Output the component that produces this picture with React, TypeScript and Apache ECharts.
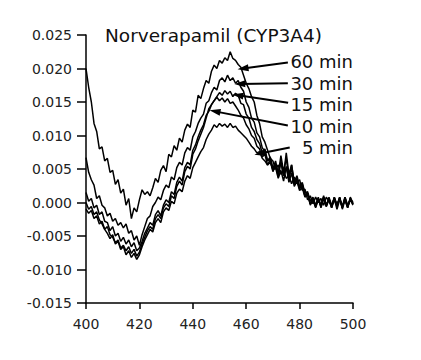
import React, { useEffect, useRef } from "react";
import * as echarts from "echarts";

const chartTitle = "Norverapamil (CYP3A4)";
const wavelengthStart = 400;
const wavelengthCount = 101;
const xTicks = [400, 420, 440, 460, 480, 500];
const yMin = -0.015;
const yMax = 0.025;
const yStep = 0.005;

const min60 = [
  0.0200, 0.0172, 0.0150, 0.0118, 0.0106, 0.0080, 0.0083, 0.0062, 0.0066, 0.0045,
  0.0048, 0.0027, 0.0034, 0.0014, 0.0020, -0.0004, 0.0006, -0.0024, -0.0008, -0.0014,
  0.0004, 0.0019, 0.0012, 0.0016, 0.0010, 0.0022, 0.0036, 0.0030, 0.0048, 0.0055,
  0.0046, 0.0072, 0.0068, 0.0085, 0.0078, 0.0096, 0.0090, 0.0108, 0.0117, 0.0112,
  0.0138, 0.0135, 0.0160, 0.0155, 0.0170, 0.0182, 0.0178, 0.0196, 0.0205, 0.0200,
  0.0212, 0.0208, 0.0216, 0.0212, 0.0225, 0.0215, 0.0212, 0.0206, 0.0202, 0.0190,
  0.0178, 0.0170, 0.0158, 0.0150, 0.0130, 0.0118, 0.0098, 0.0090, 0.0078, 0.0066,
  0.0062, 0.0050, 0.0056, 0.0042, 0.0048, 0.0036, 0.0040, 0.0028, 0.0038, 0.0030,
  0.0034, 0.0018, 0.0020, 0.0004, 0.0010, -0.0002, 0.0008, 0.0000, 0.0006, -0.0004,
  0.0008, 0.0002, -0.0006, 0.0006, -0.0004, 0.0008, -0.0006, 0.0004, -0.0008, 0.0006,
  -0.0002,
];

const min30 = [
  0.0067, 0.0045, 0.0034, 0.0026, 0.0006, 0.0010, -0.0004, -0.0008, -0.0020, -0.0016,
  -0.0028, -0.0024, -0.0034, -0.0030, -0.0038, -0.0032, -0.0046, -0.0042, -0.0056, -0.0050,
  -0.0064, -0.0048, -0.0036, -0.0024, -0.0020, -0.0006, 0.0000, 0.0008, 0.0004, 0.0018,
  0.0026, 0.0022, 0.0038, 0.0034, 0.0052, 0.0060, 0.0056, 0.0074, 0.0082, 0.0078,
  0.0098, 0.0106, 0.0118, 0.0126, 0.0132, 0.0148, 0.0152, 0.0164, 0.0172, 0.0168,
  0.0182, 0.0186, 0.0180, 0.0190, 0.0182, 0.0186, 0.0178, 0.0182, 0.0172, 0.0166,
  0.0150, 0.0142, 0.0126, 0.0120, 0.0104, 0.0098, 0.0082, 0.0076, 0.0062, 0.0066,
  0.0050, 0.0058, 0.0044, 0.0060, 0.0040, 0.0052, 0.0036, 0.0056, 0.0030, 0.0040,
  0.0024, 0.0028, 0.0010, 0.0014, -0.0002, 0.0004, -0.0006, 0.0006, -0.0004, 0.0008,
  -0.0006, 0.0004, -0.0008, 0.0008, -0.0004, 0.0006, -0.0008, 0.0008, -0.0004, 0.0004,
  -0.0002,
];

const min15 = [
  0.0015, 0.0002, 0.0006, -0.0008, -0.0004, -0.0018, -0.0014, -0.0028, -0.0030, -0.0042,
  -0.0036, -0.0050, -0.0046, -0.0058, -0.0052, -0.0062, -0.0056, -0.0066, -0.0060, -0.0072,
  -0.0068, -0.0058, -0.0046, -0.0038, -0.0030, -0.0034, -0.0018, -0.0012, -0.0020, -0.0004,
  0.0004, 0.0000, 0.0016, 0.0012, 0.0030, 0.0038, 0.0032, 0.0052, 0.0060, 0.0056,
  0.0078, 0.0086, 0.0098, 0.0108, 0.0116, 0.0130, 0.0136, 0.0146, 0.0152, 0.0158,
  0.0164, 0.0160, 0.0167, 0.0162, 0.0166, 0.0158, 0.0163, 0.0160, 0.0148, 0.0146,
  0.0132, 0.0126, 0.0112, 0.0106, 0.0094, 0.0088, 0.0074, 0.0080, 0.0062, 0.0068,
  0.0050, 0.0062, 0.0042, 0.0070, 0.0046, 0.0066, 0.0038, 0.0050, 0.0030, 0.0036,
  0.0022, 0.0030, 0.0014, 0.0016, 0.0002, 0.0008, -0.0004, 0.0008, -0.0008, 0.0006,
  -0.0006, 0.0008, -0.0004, 0.0006, -0.0010, 0.0004, -0.0006, 0.0008, -0.0006, 0.0006,
  0.0000,
];

const min10 = [
  0.0000, -0.0010, -0.0006, -0.0018, -0.0014, -0.0026, -0.0032, -0.0040, -0.0036, -0.0048,
  -0.0052, -0.0060, -0.0056, -0.0068, -0.0064, -0.0072, -0.0066, -0.0076, -0.0070, -0.0080,
  -0.0074, -0.0062, -0.0052, -0.0042, -0.0036, -0.0040, -0.0024, -0.0018, -0.0024, -0.0008,
  -0.0002, -0.0006, 0.0010, 0.0006, 0.0024, 0.0032, 0.0026, 0.0046, 0.0054, 0.0050,
  0.0072, 0.0080, 0.0092, 0.0102, 0.0112, 0.0126, 0.0140, 0.0146, 0.0152, 0.0157,
  0.0152, 0.0156, 0.0150, 0.0155, 0.0148, 0.0150, 0.0144, 0.0138, 0.0130, 0.0126,
  0.0116, 0.0110, 0.0100, 0.0096, 0.0084, 0.0080, 0.0068, 0.0072, 0.0056, 0.0064,
  0.0046, 0.0056, 0.0038, 0.0062, 0.0040, 0.0074, 0.0042, 0.0056, 0.0028, 0.0034,
  0.0020, 0.0026, 0.0010, 0.0014, -0.0004, 0.0004, -0.0008, 0.0004, -0.0006, 0.0010,
  -0.0004, 0.0006, -0.0008, 0.0004, -0.0006, 0.0008, -0.0010, 0.0004, -0.0008, 0.0008,
  -0.0002,
];

const min5 = [
  -0.0010, -0.0016, -0.0012, -0.0024, -0.0020, -0.0032, -0.0028, -0.0040, -0.0046, -0.0054,
  -0.0048, -0.0062, -0.0058, -0.0070, -0.0066, -0.0078, -0.0072, -0.0082, -0.0076, -0.0085,
  -0.0078, -0.0066, -0.0056, -0.0048, -0.0040, -0.0044, -0.0030, -0.0024, -0.0030, -0.0014,
  -0.0008, -0.0012, 0.0002, -0.0002, 0.0014, 0.0020, 0.0016, 0.0032, 0.0040, 0.0036,
  0.0052, 0.0060, 0.0068, 0.0076, 0.0082, 0.0094, 0.0102, 0.0108, 0.0116, 0.0112,
  0.0118, 0.0114, 0.0117, 0.0112, 0.0118, 0.0112, 0.0114, 0.0108, 0.0104, 0.0100,
  0.0096, 0.0090, 0.0084, 0.0080, 0.0074, 0.0076, 0.0066, 0.0062, 0.0056, 0.0060,
  0.0048, 0.0052, 0.0036, 0.0048, 0.0032, 0.0054, 0.0030, 0.0044, 0.0024, 0.0032,
  0.0018, 0.0022, 0.0008, 0.0012, -0.0002, 0.0006, -0.0006, 0.0006, -0.0006, 0.0008,
  -0.0004, 0.0006, -0.0006, 0.0008, -0.0004, 0.0006, -0.0008, 0.0006, -0.0006, 0.0004,
  -0.0004,
];

const seriesNames = ["60 min", "30 min", "15 min", "10 min", "5 min"];
const seriesValues = [min60, min30, min15, min10, min5];

// annotation arrows in data units: start (next to label) and tip (on curve)
const arrowStarts = [
  [475.6, 0.0209],
  [475.6, 0.0178],
  [475.7, 0.0149],
  [475.6, 0.0115],
  [476.3, 0.0082],
];
const arrowTips = [
  [458.8, 0.0200],
  [457.6, 0.0177],
  [456.9, 0.0160],
  [448.3, 0.0136],
  [465.1, 0.0073],
];
const labelAnchors = [
  [500, 0.0211],
  [500, 0.0177],
  [500, 0.0146],
  [500, 0.0114],
  [500, 0.0082],
];

const FONT = "DejaVu Sans, Arial, sans-serif";

export default function App() {
  const ref = useRef<HTMLDivElement>(null);
  useEffect(() => {
    if (!ref.current) return;
    const chart = echarts.init(ref.current, undefined, { renderer: "svg" });
    const wavelengths = Array.from({ length: wavelengthCount }, (_, i) => wavelengthStart + i);

    const series: any[] = seriesValues.map((vals, si) => ({
      name: seriesNames[si],
      type: "line",
      showSymbol: false,
      silent: true,
      data: wavelengths.map((w, i) => [w, vals[i]]),
      lineStyle: { color: "#000", width: 1.5 },
      z: 3,
    }));
    series[0].markLine = {
      silent: true,
      symbol: ["none", "triangle"],
      symbolSize: [7, 11],
      label: { show: false },
      lineStyle: { color: "#000", width: 2, type: "solid" },
      emphasis: { disabled: true },
      data: arrowStarts.map((s, i) => [
        { coord: s, symbol: "none" },
        { coord: arrowTips[i], symbol: "triangle", symbolSize: [7, 11] },
      ]),
    };

    chart.setOption({
      animation: false,
      grid: { left: 86, right: 68, top: 35, bottom: 57 },
      xAxis: {
        type: "value",
        min: 400,
        max: 500,
        interval: 20,
        axisLine: { show: true, onZero: false, lineStyle: { color: "#000", width: 1.5 } },
        axisTick: { show: true, length: 6, lineStyle: { color: "#000", width: 1.5 } },
        axisLabel: {
          margin: 14,
          fontSize: 14,
          fontFamily: FONT,
          color: "#222",
          formatter: (v: number) => (xTicks.includes(v) ? String(v) : ""),
        },
        splitLine: { show: false },
      },
      yAxis: {
        type: "value",
        min: yMin,
        max: yMax,
        interval: yStep,
        axisLine: { show: true, onZero: false, lineStyle: { color: "#000", width: 1.5 } },
        axisTick: { show: true, length: 9, lineStyle: { color: "#000", width: 1.5 } },
        axisLabel: {
          margin: 14,
          fontSize: 14,
          fontFamily: FONT,
          color: "#222",
          formatter: (v: number) => v.toFixed(3),
        },
        splitLine: { show: false },
      },
      series,
    });

    const graphics: any[] = [
      {
        type: "text",
        x: 105,
        y: 35,
        style: {
          text: chartTitle,
          font: `18.5px ${FONT}`,
          fill: "#111",
          textAlign: "left",
          textVerticalAlign: "middle",
        },
      },
    ];
    labelAnchors.forEach((a, i) => {
      const p = chart.convertToPixel({ gridIndex: 0 }, a) as number[];
      graphics.push({
        type: "text",
        x: p[0],
        y: p[1],
        style: {
          text: seriesNames[i],
          font: `18px ${FONT}`,
          fill: "#111",
          textAlign: "right",
          textVerticalAlign: "middle",
        },
      });
    });
    chart.setOption({ graphic: graphics });

    return () => chart.dispose();
  }, []);
  return <div ref={ref} style={{ width: 421, height: 360, marginLeft: -8, marginTop: -8 }} />;
}
